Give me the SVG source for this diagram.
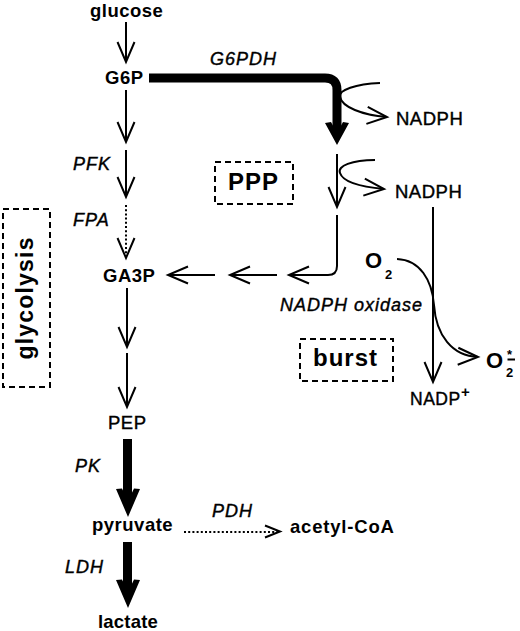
<svg xmlns="http://www.w3.org/2000/svg" width="520" height="631" viewBox="0 0 520 631">
<defs>
<style>
text{font-family:"Liberation Sans",Arial,sans-serif;fill:#000}
.m{font-size:18.5px;font-weight:bold;letter-spacing:0.5px}
.r{font-size:18.5px;font-weight:normal;letter-spacing:0.5px;stroke:#000;stroke-width:0.4px}
.e{font-size:18px;font-style:italic;letter-spacing:1px;stroke:#000;stroke-width:0.4px}
.big{font-size:24px;font-weight:bold;letter-spacing:1px}
.ln{fill:none;stroke:#000;stroke-width:2}
.dot{fill:none;stroke:#000;stroke-width:2;stroke-dasharray:2 2.2}
.thick{fill:none;stroke:#000;stroke-width:9}
.box{fill:none;stroke:#000;stroke-width:2;stroke-dasharray:6 4}
</style>
<marker id="v" markerUnits="userSpaceOnUse" overflow="visible" orient="auto" refX="0" refY="0" markerWidth="24" markerHeight="20">
<path d="M-20,-8.5 L0,0 L-20,8.5" fill="none" stroke="#000" stroke-width="2"/>
</marker>
<polygon id="hh" points="0,0 -12,-28 -6,-28.5 0,-16 6,-28.5 12,-28"/>
<polygon id="hs" points="0,0 -12,-22 -6,-23 0,-12 6,-23 12,-22"/>
</defs>
<rect width="520" height="631" fill="#fff"/>

<g id="connectors">
<line class="ln" x1="126" y1="22" x2="126" y2="62" marker-end="url(#v)"/>
<line class="ln" x1="126" y1="90" x2="126" y2="142" marker-end="url(#v)"/>
<line class="ln" x1="126" y1="150" x2="126" y2="197" marker-end="url(#v)"/>
<line class="dot" x1="126" y1="205" x2="126" y2="258"/>
<path d="M117.5,238 L126,258 L134.5,238" class="ln"/>
<line class="ln" x1="127" y1="288" x2="127" y2="347" marker-end="url(#v)"/>
<line class="ln" x1="127" y1="353" x2="127" y2="407" marker-end="url(#v)"/>
<path class="thick" d="M149,78 H325 Q337,78 337,90 V134"/>
<use href="#hs" transform="translate(337,145)"/>
<path class="ln" d="M380,83 C356,84 338,90 340,97 C342,107 362,115 387,117" marker-end="url(#v)"/>
<line class="ln" x1="337" y1="154" x2="337" y2="207" marker-end="url(#v)"/>
<path class="ln" d="M375,160 C352,160 337,166 340,173 C343,182 362,187 384,189" marker-end="url(#v)"/>
<path class="ln" d="M337,215 V266 Q337,275 328,275 H289" marker-end="url(#v)"/>
<line class="ln" x1="277" y1="275" x2="230" y2="275" marker-end="url(#v)"/>
<line class="ln" x1="215" y1="275" x2="168" y2="275" marker-end="url(#v)"/>
<line class="ln" x1="433" y1="207" x2="433" y2="382" marker-end="url(#v)"/>
<path class="ln" d="M397,259 C420,260 432,280 434,305 C436,335 452,356 478,357" marker-end="url(#v)"/>
<line class="thick" x1="127.5" y1="439" x2="127.5" y2="503"/>
<use href="#hh" transform="translate(128,517)"/>
<line class="dot" x1="184" y1="532" x2="278" y2="532"/>
<path d="M265,525.5 L280,531.5 L265,537.5" class="ln"/>
<line class="thick" x1="127.5" y1="542" x2="127.5" y2="594"/>
<use href="#hh" transform="translate(128,608)"/>
</g>

<g id="glucose"><text class="m" x="90" y="17">glucose</text></g>
<g id="G6P"><text class="m" x="105" y="84">G6P</text></g>
<g id="G6PDH"><text class="e" x="210" y="65">G6PDH</text></g>
<g id="NADPH1"><text class="r" x="396" y="125">NADPH</text></g>
<g id="NADPH2"><text class="r" x="395" y="198">NADPH</text></g>
<g id="PPP"><rect class="box" x="215" y="162" width="78" height="42"/><text class="big" x="228" y="190">PPP</text></g>
<g id="PFK"><text class="e" x="73" y="170">PFK</text></g>
<g id="FPA"><text class="e" x="73" y="226">FPA</text></g>
<g id="GA3P"><text class="m" x="103" y="282">GA3P</text></g>
<g id="glycolysis"><rect class="box" x="3" y="209" width="47" height="178"/><text class="big" transform="translate(33,298) rotate(-90)" text-anchor="middle" style="font-size:23px;letter-spacing:1.2px">glycolysis</text></g>
<g id="O2"><text x="365" y="268" style="font-size:22px;font-weight:bold">O</text><text x="385" y="279" style="font-size:13px;font-weight:bold">2</text></g>
<g id="NADPHoxidase"><text class="e" x="280" y="311">NADPH oxidase</text></g>
<g id="burst"><rect class="box" x="300" y="339" width="93" height="42"/><text class="big" x="313" y="366">burst</text></g>
<g id="superoxide"><text x="486" y="368" style="font-size:22px;font-weight:bold">O</text><text x="506" y="377" style="font-size:13px;font-weight:bold">2</text><text x="507" y="359" style="font-size:13px;font-weight:bold">*</text><line x1="507.5" y1="359.5" x2="515" y2="359.5" stroke="#000" stroke-width="2"/></g>
<g id="NADP"><text class="r" x="410" y="405" style="font-size:17.5px">NADP</text><text x="461" y="397" style="font-size:15px;font-weight:bold">+</text></g>
<g id="PEP"><text class="r" x="108" y="429">PEP</text></g>
<g id="PK"><text class="e" x="75" y="472">PK</text></g>
<g id="pyruvate"><text class="m" x="92" y="531">pyruvate</text></g>
<g id="PDH"><text class="e" x="212" y="517">PDH</text></g>
<g id="acetylCoA"><text class="m" x="290" y="533" style="letter-spacing:0.8px">acetyl-CoA</text></g>
<g id="LDH"><text class="e" x="65" y="573">LDH</text></g>
<g id="lactate"><text class="m" x="98" y="628" style="letter-spacing:0.2px">lactate</text></g>
</svg>
